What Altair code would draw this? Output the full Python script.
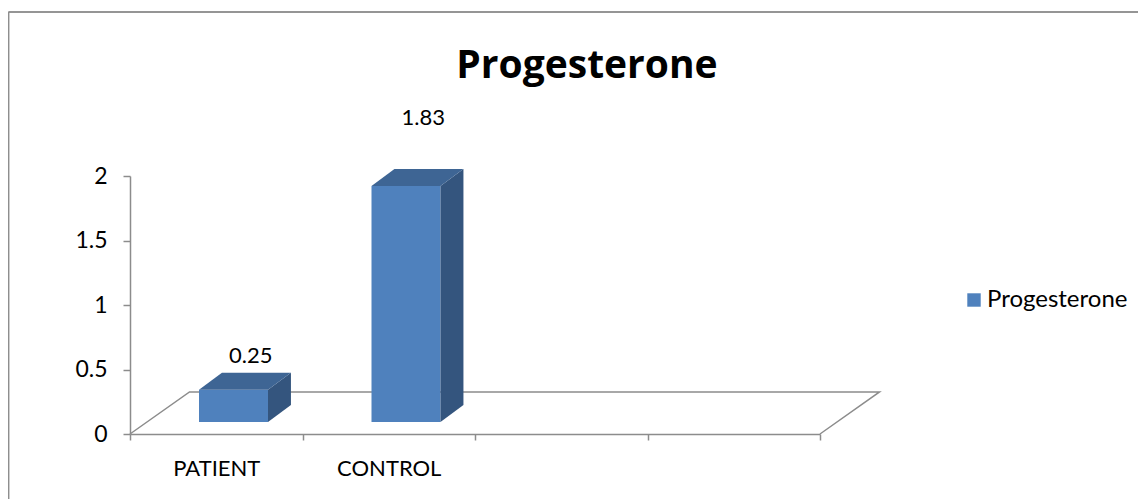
import altair as alt
import pandas as pd

# ---- data ----
categories = ["PATIENT", "CONTROL"]
values = [0.25, 1.83]
series_name = "Progesterone"
y_ticks = [0, 0.5, 1, 1.5, 2]
n_slots = 4  # category slots on the x axis (two are empty)

# ---- style constants ----
FONT = "Lato"
FRONT = "#4F81BD"
TOP = "#3E6594"
SIDE = "#34557E"
LINE = "#8C8C8C"
bar_left, bar_right = 0.40, 0.80   # bar front face inside its slot
base = 0.093                       # bar sits inside the floor depth
ddx, ddy = 0.133, 0.132            # bar depth
fdx, fdy = 0.345, 0.326            # floor depth

W, H = 690, 258
slot_px = W / n_slots

df = pd.DataFrame({
    "cat": categories,
    "value": values,
    "idx": list(range(len(categories))),
    "series": [series_name] * len(categories),
})

floor_df = pd.DataFrame({
    "fx": [0, fdx, n_slots + fdx, n_slots],
    "fy": [0, fdy, fdy, 0],
    "o": [0, 1, 2, 3],
})

xscale = alt.Scale(domain=[0, n_slots], nice=False, zero=False)
yscale = alt.Scale(domain=[0, 2], nice=False)

label_expr = f"{categories!r}[datum.value] || ''".replace("'", '"')

x_axis = alt.Axis(
    values=list(range(n_slots + 1)), labelExpr=label_expr, labelOffset=slot_px / 2,
    labelFlush=False, labelOverlap=False,
    grid=False, domainColor=LINE, domainWidth=1.5, tickColor=LINE, tickWidth=1.5,
    tickSize=6, labelFont=FONT, labelFontSize=22, labelColor="black",
    labelPadding=18, title=None, labelAngle=0,
)
y_axis = alt.Axis(
    values=y_ticks, grid=False, domainColor=LINE, domainWidth=1.5, tickColor=LINE,
    tickWidth=1.5, tickSize=7, labelFont=FONT, labelFontSize=23, labelColor="black",
    labelPadding=16, title=None, format="~g", labelFlush=False,
)

base_chart = alt.Chart(df)

floor = alt.Chart(floor_df).mark_line(color=LINE, strokeWidth=1.5).encode(
    x=alt.X("fx:Q", scale=xscale, axis=x_axis),
    y=alt.Y("fy:Q", scale=yscale, axis=y_axis),
    order="o:Q",
)

front = base_chart.transform_calculate(
    x0=f"datum.idx + {bar_left}",
    x1=f"datum.idx + {bar_right}",
    yb=f"{base}",
    yt=f"{base} + datum.value",
).mark_rect().encode(
    x=alt.X("x0:Q", scale=xscale),
    x2="x1:Q",
    y=alt.Y("yt:Q", scale=yscale),
    y2="yb:Q",
    color=alt.Color(
        "series:N",
        scale=alt.Scale(domain=[series_name], range=[FRONT]),
        legend=alt.Legend(
            title=None, orient="none", legendX=832, legendY=112,
            symbolType="square", symbolSize=180, symbolStrokeWidth=0,
            labelFont=FONT, labelFontSize=24, labelColor="black", padding=0,
            symbolOffset=0, labelOffset=1,
        ),
    ),
)

side = base_chart.transform_calculate(k="[0, 1]").transform_flatten(["k"]).transform_calculate(
    sx=f"datum.idx + {bar_right} + datum.k * {ddx}",
    st=f"{base} + datum.value + datum.k * {ddy}",
    sb=f"{base} + datum.k * {ddy}",
).mark_area(orient="vertical", color=SIDE).encode(
    x=alt.X("sx:Q", scale=xscale),
    y=alt.Y("st:Q", scale=yscale),
    y2="sb:Q",
    detail="cat:N",
)

top = base_chart.transform_calculate(k="[0, 1]").transform_flatten(["k"]).transform_calculate(
    ty=f"{base} + datum.value + datum.k * {ddy}",
    tl=f"datum.idx + {bar_left} + datum.k * {ddx}",
    tr=f"datum.idx + {bar_right} + datum.k * {ddx}",
).mark_area(orient="horizontal", color=TOP).encode(
    y=alt.Y("ty:Q", scale=yscale),
    x=alt.X("tl:Q", scale=xscale),
    x2="tr:Q",
    detail="cat:N",
)

labels = base_chart.transform_calculate(
    lx="datum.idx + 0.70",
    ly="0.31 + 1.17 * datum.value",
).mark_text(font=FONT, fontSize=22, color="black", baseline="middle", align="center").encode(
    x=alt.X("lx:Q", scale=xscale),
    y=alt.Y("ly:Q", scale=yscale),
    text=alt.Text("value:Q", format=".2f"),
)

frame_top = alt.Chart(df).mark_rule(color="#8E8E8E", strokeWidth=1.5).encode(
    x=alt.value(-121.5), x2=alt.value(1020), y=alt.value(-164), y2=alt.value(-164)
)
frame_left = alt.Chart(df).mark_rule(color="#8E8E8E", strokeWidth=1.5).encode(
    x=alt.value(-121.5), x2=alt.value(-121.5), y=alt.value(-164), y2=alt.value(330)
)

chart = alt.layer(frame_top, frame_left, floor, front, side, top, labels).properties(
    width=W, height=H,
    title=alt.TitleParams(
        series_name, font="Open Sans", fontSize=39, fontWeight="bold", color="black",
        anchor="middle", dx=112, offset=0, dy=114, baseline="bottom",
    ),
    autosize=alt.AutoSizeParams(type="none"),
    padding={"left": 122, "top": 168, "right": 318, "bottom": 65},
).configure(background="white", view=alt.ViewConfig(stroke=None))

chart.save("out.html", embed_options={"renderer": "svg", "actions": False})
